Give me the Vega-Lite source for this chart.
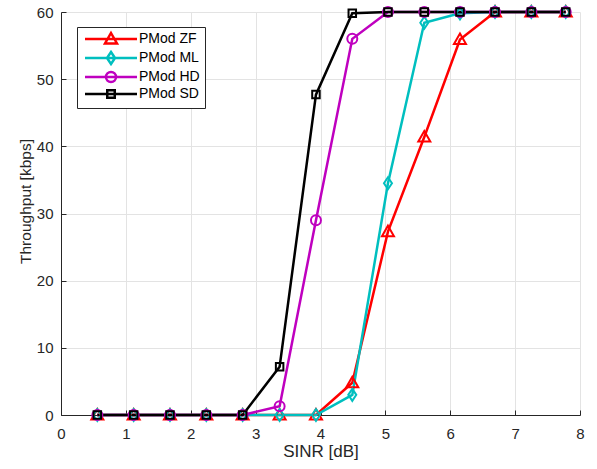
{
  "$schema": "https://vega.github.io/schema/vega-lite/v6.json",
  "width": 519,
  "height": 403,
  "autosize": {"type": "none"},
  "padding": {"left": 61, "top": 12, "right": 17, "bottom": 54},
  "background": "white",
  "config": {
    "view": {"stroke": null},
    "font": "Liberation Sans",
    "axis": {
      "domainColor": "#262626",
      "domainWidth": 1,
      "tickColor": "#262626",
      "tickSize": -5,
      "labelColor": "#262626",
      "labelFont": "Liberation Sans",
      "labelFontSize": 15,
      "labelOverlap": false,
      "labelFlush": false,
      "titleFont": "Liberation Sans",
      "titleFontWeight": "normal",
      "titleColor": "#262626",
      "gridColor": "#e3e3e3",
      "gridWidth": 1
    }
  },
  "data": {
    "values": [
      {"x": 0.56, "y": 0, "s": "PMod ZF"}, {"x": 1.12, "y": 0, "s": "PMod ZF"}, {"x": 1.68, "y": 0, "s": "PMod ZF"}, {"x": 2.24, "y": 0, "s": "PMod ZF"}, {"x": 2.8, "y": 0, "s": "PMod ZF"}, {"x": 3.37, "y": 0, "s": "PMod ZF"}, {"x": 3.93, "y": 0, "s": "PMod ZF"}, {"x": 4.49, "y": 4.8, "s": "PMod ZF"}, {"x": 5.04, "y": 27.3, "s": "PMod ZF"}, {"x": 5.6, "y": 41.4, "s": "PMod ZF"}, {"x": 6.15, "y": 55.9, "s": "PMod ZF"}, {"x": 6.69, "y": 60, "s": "PMod ZF"}, {"x": 7.25, "y": 60, "s": "PMod ZF"}, {"x": 7.78, "y": 60, "s": "PMod ZF"},
      {"x": 0.56, "y": 0, "s": "PMod ML"}, {"x": 1.12, "y": 0, "s": "PMod ML"}, {"x": 1.68, "y": 0, "s": "PMod ML"}, {"x": 2.24, "y": 0, "s": "PMod ML"}, {"x": 2.8, "y": 0, "s": "PMod ML"}, {"x": 3.37, "y": 0, "s": "PMod ML"}, {"x": 3.93, "y": 0, "s": "PMod ML"}, {"x": 4.49, "y": 3.0, "s": "PMod ML"}, {"x": 5.04, "y": 34.5, "s": "PMod ML"}, {"x": 5.6, "y": 58.4, "s": "PMod ML"}, {"x": 6.15, "y": 59.8, "s": "PMod ML"}, {"x": 6.69, "y": 60, "s": "PMod ML"}, {"x": 7.25, "y": 60, "s": "PMod ML"}, {"x": 7.78, "y": 60, "s": "PMod ML"},
      {"x": 0.56, "y": 0, "s": "PMod HD"}, {"x": 1.12, "y": 0, "s": "PMod HD"}, {"x": 1.68, "y": 0, "s": "PMod HD"}, {"x": 2.24, "y": 0, "s": "PMod HD"}, {"x": 2.8, "y": 0, "s": "PMod HD"}, {"x": 3.37, "y": 1.3, "s": "PMod HD"}, {"x": 3.93, "y": 29.0, "s": "PMod HD"}, {"x": 4.49, "y": 56.0, "s": "PMod HD"}, {"x": 5.04, "y": 60, "s": "PMod HD"}, {"x": 5.6, "y": 60, "s": "PMod HD"}, {"x": 6.15, "y": 60, "s": "PMod HD"}, {"x": 6.69, "y": 60, "s": "PMod HD"}, {"x": 7.25, "y": 60, "s": "PMod HD"}, {"x": 7.78, "y": 60, "s": "PMod HD"},
      {"x": 0.56, "y": 0, "s": "PMod SD"}, {"x": 1.12, "y": 0, "s": "PMod SD"}, {"x": 1.68, "y": 0, "s": "PMod SD"}, {"x": 2.24, "y": 0, "s": "PMod SD"}, {"x": 2.8, "y": 0, "s": "PMod SD"}, {"x": 3.37, "y": 7.2, "s": "PMod SD"}, {"x": 3.93, "y": 47.7, "s": "PMod SD"}, {"x": 4.49, "y": 59.8, "s": "PMod SD"}, {"x": 5.04, "y": 60, "s": "PMod SD"}, {"x": 5.6, "y": 60, "s": "PMod SD"}, {"x": 6.15, "y": 60, "s": "PMod SD"}, {"x": 6.69, "y": 60, "s": "PMod SD"}, {"x": 7.25, "y": 60, "s": "PMod SD"}, {"x": 7.78, "y": 60, "s": "PMod SD"}
    ]
  },
  "encoding": {
    "x": {
      "field": "x", "type": "quantitative",
      "scale": {"domain": [0, 8], "nice": false, "zero": false},
      "axis": {"title": "SINR [dB]", "values": [0,1,2,3,4,5,6,7,8], "labelPadding": 16, "titlePadding": 2, "titleFontSize": 17}
    },
    "y": {
      "field": "y", "type": "quantitative",
      "scale": {"domain": [0, 60], "nice": false},
      "axis": {"title": "Throughput [kbps]", "values": [0,10,20,30,40,50,60], "labelPadding": 13, "titlePadding": 3, "titleFontSize": 15.5, "titleY": 189}
    },
    "color": {
      "field": "s", "type": "nominal",
      "scale": {"domain": ["PMod ZF", "PMod ML", "PMod HD", "PMod SD"], "range": ["#ff0000", "#00bfbf", "#bf00bf", "#000000"]},
      "legend": {
        "title": null,
        "orient": "none",
        "legendX": 16,
        "legendY": 15,
        "padding": 5,
        "strokeColor": "#262626",
        "fillColor": "white",
        "labelFont": "Liberation Sans",
        "labelFontSize": 14,
        "labelColor": "#000000",
        "symbolStrokeWidth": 2.5,
        "symbolSize": 100,
        "symbolOffset": 22,
        "labelOffset": 21,
        "rowPadding": -2
      }
    }
  },
  "layer": [
    {
      "mark": {"type": "line", "strokeWidth": 2.5},
      "encoding": {"order": {"field": "x", "type": "quantitative"}}
    },
    {
      "transform": [{"filter": "datum.s === 'PMod ZF'"}],
      "mark": {"type": "point", "filled": false, "strokeWidth": 2, "size": 100, "opacity": 1, "shape": "M0,-1.2L1.2,0.9L-1.2,0.9Z"}
    },
    {
      "transform": [{"filter": "datum.s === 'PMod ML'"}],
      "mark": {"type": "point", "filled": false, "strokeWidth": 2, "size": 100, "opacity": 1, "shape": "M0,-1.2L0.8,0L0,1.2L-0.8,0Z"}
    },
    {
      "transform": [{"filter": "datum.s === 'PMod HD'"}],
      "mark": {"type": "point", "filled": false, "strokeWidth": 2, "size": 100, "opacity": 1, "shape": "circle"}
    },
    {
      "transform": [{"filter": "datum.s === 'PMod SD'"}],
      "mark": {"type": "point", "filled": false, "strokeWidth": 2, "size": 100, "opacity": 1, "shape": "M-0.75,-0.75H0.75V0.75H-0.75Z"}
    },
    {
      "transform": [{"filter": "datum.x < 0"}],
      "mark": {"type": "point", "filled": false, "strokeWidth": 2.5, "size": 100, "opacity": 1},
      "encoding": {
        "shape": {
          "field": "s", "type": "nominal",
          "scale": {
            "domain": ["PMod ZF", "PMod ML", "PMod HD", "PMod SD"],
            "range": [
              "M-5.2,0H5.2M0,-1.2L1.2,0.9L-1.2,0.9Z",
              "M-5.2,0H5.2M0,-1.2L0.8,0L0,1.2L-0.8,0Z",
              "M-5.2,0H5.2M1,0A1,1 0 1,1 -1,0A1,1 0 1,1 1,0Z",
              "M-5.2,0H5.2M-0.75,-0.75H0.75V0.75H-0.75Z"
            ]
          },
          "legend": {
            "title": null,
            "orient": "none",
            "legendX": 16,
            "legendY": 15,
            "padding": 5,
            "strokeColor": "#262626",
            "fillColor": "white",
            "labelFont": "Liberation Sans",
            "labelFontSize": 14,
            "labelColor": "#000000",
            "symbolStrokeWidth": 2.5,
            "symbolSize": 100,
            "symbolOffset": 22,
            "labelOffset": 21,
            "rowPadding": -2
          }
        }
      }
    }
  ]
}
